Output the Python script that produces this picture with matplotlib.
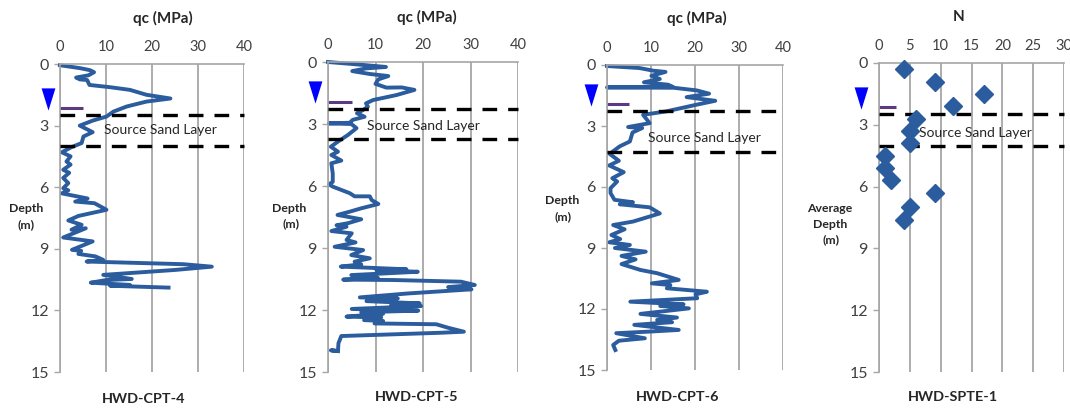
import matplotlib
matplotlib.use('Agg')
import matplotlib.pyplot as plt
from matplotlib.transforms import blended_transform_factory

plt.rcParams['font.family'] = ['Lato', 'DejaVu Sans']

W, H = 1070, 408
BLUE = '#2b5c9e'
GRID = '#a6a6a6'

# CPT-4 profile
qc4 = [0, 4.3, 6.5, 7.4, 6.2, 3.5, 4.3, 5.9, 6.4, 10.9, 15.2, 18.8, 24, 18.8, 14.5, 11.6, 10.1, 7.2, 4.3, 7.1,
       5.1, 4.7, 2.5, 0.4, 2.3, 1.4, 2.3, 0.7, 2, 0.7, 1.8, 0.7, 1.8, 0.4, 6, 3.3, 7.5, 10.1, 4, 1.8,
       4.7, 2.5, 5.6, 0.7, 7.1, 2.6, 4.6, 4, 7.7, 9.4, 5.8, 26.8, 33, 25, 9.4, 15.6, 10.1, 6.7, 15.2, 10.9, 23.6]
depth4 = [0.06, 0.2, 0.3, 0.4, 0.55, 0.66, 0.75, 0.78, 1.02, 1.13, 1.26, 1.5, 1.68, 1.83, 2.07, 2.32, 2.56, 2.75, 3.0, 3.32,
          3.53, 3.85, 4.05, 4.3, 4.5, 4.75, 4.9, 5.15, 5.3, 5.55, 5.8, 6.05, 6.15, 6.3, 6.55, 6.7, 6.78, 7.1, 7.4, 7.62,
          7.83, 8.07, 8.0, 8.45, 8.64, 9.05, 9.1, 9.25, 9.37, 9.54, 9.62, 9.75, 9.87, 10.03, 10.27, 10.47, 10.52, 10.65, 10.76, 10.8, 10.89]

# CPT-5 profile
qc5 = [0, 5.3, 12.2, 8, 5.1, 8.8, 12.7, 10.6, 10, 12.3, 15.5, 18.2, 14.4, 9.5, 8, 8.4, 7.4, 6.1, 7.7, 5.2,
       4.6, 0.2, 4.9, 6, 4.2, 2.1, 0.6, 2.1, 0.7, 2.8, 0.7, 1, 1, 0.2, 1, 4.6, 5.6, 8.8, 9.2, 10.6,
       7, 4.6, 2, 7, 4.2, 1.8, 3.9, 0.7, 5, 3.9, 5.8, 1.4, 7.4, 4.9, 8.8, 5.6, 7, 2.7, 16.5, 10.2, 18.9,
       4.9, 10.5, 3.2, 14, 28, 30.9, 25.3, 30.2, 16.8, 6.7, 14.7, 8.1, 19.3, 13.3, 19.6, 5, 19, 7, 11.6,
       3.9, 11.2, 7.6, 11.6, 9.8, 22.8, 25.3, 28.6, 23.9, 2.8, 2.2, 2.1, 0.6, 2.1]
depth5 = [0, 0.1, 0.24, 0.31, 0.44, 0.58, 0.68, 0.84, 1.06, 1.24, 1.23, 1.35, 1.6, 1.84, 2.0, 2.16, 2.32, 2.48, 2.65, 2.8,
          2.94, 2.97, 3.0, 3.2, 3.53, 3.85, 4.1, 4.34, 4.5, 4.77, 4.9, 5.39, 5.8, 5.92, 6.03, 6.35, 6.5, 6.5, 6.68, 6.87,
          7.08, 7.24, 7.4, 7.61, 7.8, 7.9, 7.97, 8.18, 8.29, 8.61, 8.73, 8.94, 9.1, 9.34, 9.5, 9.66, 9.79, 9.9, 10.03, 10.08, 10.15,
          10.31, 10.44, 10.53, 10.55, 10.63, 10.79, 10.89, 11.0, 11.2, 11.39, 11.44, 11.57, 11.68, 11.76, 11.81, 11.95, 12.03, 12.11, 12.18,
          12.32, 12.36, 12.49, 12.53, 12.65, 12.69, 12.86, 13.05, 13.1, 13.26, 13.61, 13.98, 13.95, 13.99]

# CPT-6 profile
qc6 = [0, 7.4, 10.5, 13.3, 10.1, 12, 8.4, 13.9, 15, 0, 15.2, 20.4, 23.2, 18.1, 24.6, 20.4, 13.5, 8.2, 9.7, 4.8,
       8, 5.8, 5.2, 2.9, 0.6, 2.7, 0.5, 3.8, 1.2, 2.3, 0.8, 0.8, 1.7, 5.9, 2.9, 9.7, 12, 5.9, 1.4, 4,
       1, 3, 0.5, 5.2, 1.8, 8.8, 3.3, 6.5, 3.3, 7.6, 11.4, 16.3, 10.2, 14.4, 13.6, 22.7, 20.1, 20.5, 5.3, 17.4,
       12.1, 18.6, 7.6, 15.9, 11.4, 14.8, 6.2, 16.3, 9.8, 2.1, 8.6, 2.7, 1.4, 1.9]
depth6 = [0.05, 0.15, 0.28, 0.34, 0.53, 0.69, 0.85, 0.97, 1.08, 1.1, 1.12, 1.25, 1.41, 1.58, 1.76, 1.95, 2.28, 2.45, 2.86, 3.05,
          3.1, 3.32, 3.76, 4.0, 4.37, 4.71, 4.94, 5.27, 5.57, 5.73, 6.06, 6.3, 6.63, 6.75, 6.85, 7.0, 7.3, 7.7, 7.87, 8.08,
          8.36, 8.56, 8.72, 8.85, 9.0, 9.18, 9.39, 9.56, 9.79, 10.08, 10.24, 10.57, 10.74, 10.82, 10.98, 11.15, 11.28, 11.47, 11.64, 11.77,
          11.85, 11.97, 12.24, 12.42, 12.54, 12.65, 12.78, 13.03, 13.11, 13.19, 13.44, 13.56, 13.77, 14.02]

# SPT blow counts
n_spt = [4, 9, 17, 12, 6, 5, 5, 1, 1, 2, 9, 5, 4]
depth_spt = [0.3, 0.9, 1.5, 2.1, 2.7, 3.3, 3.9, 4.5, 5.1, 5.7, 6.3, 7.0, 7.6]

# sand layer top/bottom, water table bar depth for each panel
layer_top = [2.48, 2.26, 2.28, 2.46]
layer_bottom = [4.0, 3.71, 4.27, 4.01]
bar_depth = [2.12, 1.92, 1.94, 2.12]
bar_end = [5, 5, 5, 2.7]
water_depth = [1.69, 1.43, 1.48, 1.68]

x_ticks_qc = [0, 10, 20, 30, 40]
x_ticks_n = [0, 5, 10, 15, 20, 25, 30]
y_ticks = [0, 3, 6, 9, 12, 15]

# axes box in pixels: left, right, top, bottom
boxes = [(60, 244, 64, 372), (328, 518, 62, 372), (607, 783, 65, 370), (879, 1064, 63, 372)]
water_x = [48, 315, 591, 861]
source_xy = [(104, 130), (367, 126), (648, 138), (919, 133)]
top_titles = [('qc (MPa)', 163, 18), ('qc (MPa)', 427, 17), ('qc (MPa)', 697, 18), ('N', 959, 17)]
bottom_titles = [('HWD-CPT-4', 144, 399), ('HWD-CPT-5', 417, 397), ('HWD-CPT-6', 678, 397), ('HWD-SPTE-1', 953, 397)]
y_labels = [[('Depth', 26, 209), ('(m)', 26, 225)],
            [('Depth', 289, 208), ('(m)', 291, 224)],
            [('Depth', 562, 200), ('(m)', 563, 217)],
            [('Average', 830, 209), ('Depth', 830, 224), ('(m)', 831, 240)]]

fig = plt.figure(figsize=(W / 100, H / 100), dpi=100)


def fig_text(x, y, s, **kw):
    fig.text(x / W, 1 - y / H, s, va='center', **kw)


for i, box in enumerate(boxes):
    left, right, top, bottom = box
    ax = fig.add_axes([left / W, 1 - bottom / H, (right - left) / W, (bottom - top) / H])
    x_ticks = x_ticks_n if i == 3 else x_ticks_qc
    ax.set_xlim(x_ticks[0], x_ticks[-1])
    ax.set_ylim(15, 0)
    ax.set_xticks(x_ticks)
    ax.set_yticks(y_ticks)
    ax.xaxis.tick_top()
    ax.tick_params(axis='x', length=0, labelsize=10.5, colors='#404040', pad=7)
    ax.tick_params(axis='y', length=4, width=1, color=GRID, labelsize=11.5, labelcolor='#404040', pad=4)
    ax.grid(axis='x', color=GRID, lw=1.3)
    ax.set_axisbelow(True)
    for side in ['right', 'bottom']:
        ax.spines[side].set_visible(False)
    for side in ['top', 'left']:
        ax.spines[side].set_color(GRID)
        ax.spines[side].set_linewidth(1.2)

    # profile
    if i == 0:
        ax.plot(qc4, depth4, color=BLUE, lw=2.8, solid_joinstyle='round', clip_on=False)
    elif i == 1:
        ax.plot(qc5, depth5, color=BLUE, lw=2.8, solid_joinstyle='round', clip_on=False)
    elif i == 2:
        ax.plot(qc6, depth6, color=BLUE, lw=2.8, solid_joinstyle='round', clip_on=False)
    else:
        ax.plot(n_spt, depth_spt, ls='none', marker='D', ms=9, color=BLUE, clip_on=False, zorder=6)

    # source layer limits
    for d in [layer_top[i], layer_bottom[i]]:
        ax.plot([x_ticks[0], x_ticks[-1]], [d, d], color='black', lw=2.4, dashes=(4.4, 3.3), zorder=4, clip_on=False)

    ax.plot([0, bar_end[i]], [bar_depth[i], bar_depth[i]], color='#5b3a83', lw=2.2, solid_capstyle='butt')

    # water table triangle sits left of the axis
    trans = blended_transform_factory(ax.transAxes, ax.transData)
    ax.plot([(water_x[i] - left) / (right - left)], [water_depth[i]], transform=trans,
            marker=[(-0.62, 1), (0.62, 1), (0, -1)], ms=16, color='#0000ff', mew=0, clip_on=False)

    sx, sy = source_xy[i]
    fig_text(sx, sy, 'Source Sand Layer', ha='left', fontsize=10, color='#262626', zorder=5)

for s, x, y in top_titles:
    fig_text(x, y, s, ha='center', fontsize=11, fontweight='bold', color='#262626')
for s, x, y in bottom_titles:
    fig_text(x, y, s, ha='center', fontsize=10.4, fontweight='bold', color='#262626')
for group in y_labels:
    for s, x, y in group:
        fig_text(x, y, s, ha='center', fontsize=8.8, fontweight='bold', color='#262626')

fig.savefig('out.png', dpi=100)
